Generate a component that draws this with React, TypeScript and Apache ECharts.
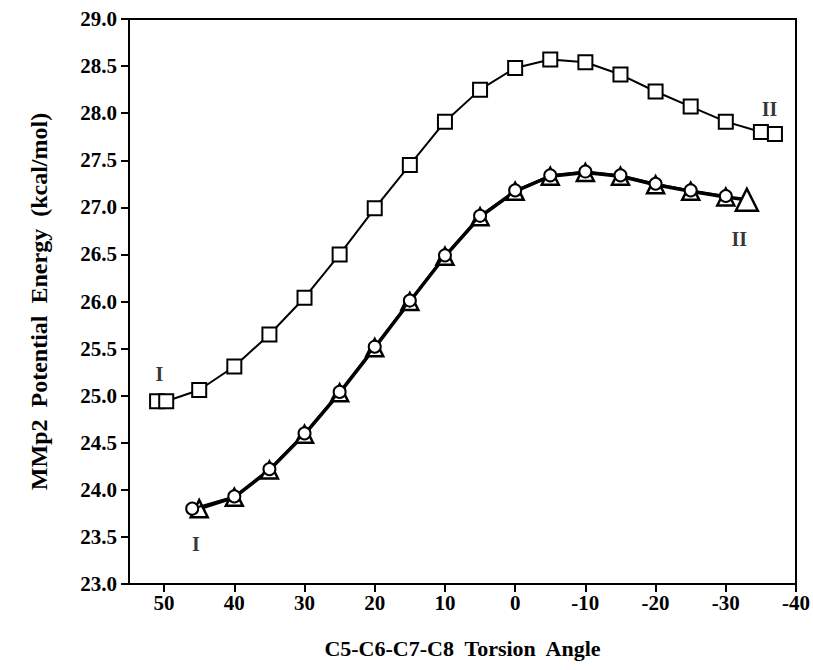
import React, { useEffect, useRef } from "react";
import * as echarts from "echarts";

// Torsion angles (deg) and MMP2 energies (kcal/mol)
const squareX = [51, 49.7, 45, 40, 35, 30, 25, 20, 15, 10, 5, 0, -5, -10, -15, -20, -25, -30, -35, -37];
const squareY = [24.94, 24.94, 25.06, 25.31, 25.65, 26.04, 26.5, 26.99, 27.45, 27.91, 28.25, 28.48, 28.57, 28.54, 28.41, 28.23, 28.07, 27.91, 27.8, 27.78];

const triangleX = [45, 40, 35, 30, 25, 20, 15, 10, 5, 0, -5, -10, -15, -20, -25, -30, -33];
const triangleY = [23.8, 23.92, 24.21, 24.59, 25.03, 25.51, 26.0, 26.48, 26.9, 27.17, 27.33, 27.37, 27.33, 27.24, 27.17, 27.11, 27.08];

const circleX = [46, 40, 35, 30, 25, 20, 15, 10, 5, 0, -5, -10, -15, -20, -25, -30];
const circleY = [23.8, 23.93, 24.22, 24.6, 25.04, 25.52, 26.01, 26.49, 26.91, 27.18, 27.34, 27.38, 27.34, 27.25, 27.18, 27.12];

const xTicks = [50, 40, 30, 20, 10, 0, -10, -20, -30, -40];

const labelText = ["I", "II", "I", "II"];
const labelX = [50.6, -36.3, 45.4, -32];
const labelY = [25.22, 28.04, 23.42, 26.66];

const FONT = "'Liberation Serif', 'Times New Roman', serif";

export default function App() {
  const ref = useRef<HTMLDivElement>(null);
  useEffect(() => {
    if (!ref.current) return;
    const chart = echarts.init(ref.current, undefined, { renderer: "svg" });
    const pairs = (xs: number[], ys: number[]) => xs.map((x, i) => [x, ys[i]]);
    const triData = pairs(triangleX, triangleY).map((p, i) =>
      i === triangleX.length - 1 ? { value: p, symbolSize: 22 } : { value: p }
    );
    chart.setOption({
      animation: false,
      backgroundColor: "#ffffff",
      grid: {
        left: 129,
        right: 15,
        top: 19,
        bottom: 86,
        show: true,
        borderColor: "#000",
        borderWidth: 2,
        backgroundColor: "transparent",
      },
      xAxis: {
        type: "value",
        min: -40,
        max: 55,
        inverse: true,
        name: "C5-C6-C7-C8  Torsion  Angle",
        nameLocation: "middle",
        nameGap: 53,
        nameTextStyle: { fontFamily: FONT, fontWeight: "bold", fontSize: 22, color: "#000" },
        axisLine: { onZero: false, lineStyle: { color: "#000", width: 2 } },
        axisTick: { customValues: xTicks, length: 8, inside: false, lineStyle: { color: "#000", width: 2 } },
        axisLabel: {
          customValues: xTicks,
          margin: 8,
          fontFamily: FONT,
          fontWeight: "bold",
          fontSize: 21,
          color: "#000",
        },
        splitLine: { show: false },
      },
      yAxis: {
        type: "value",
        min: 23,
        max: 29,
        interval: 0.5,
        name: "MMp2  Potential  Energy  (kcal/mol)",
        nameLocation: "middle",
        nameGap: 78,
        nameTextStyle: { fontFamily: FONT, fontWeight: "bold", fontSize: 24, color: "#000" },
        axisLine: { onZero: false, lineStyle: { color: "#000", width: 2 } },
        axisTick: { length: 8, lineStyle: { color: "#000", width: 2 } },
        axisLabel: {
          margin: 12,
          fontFamily: FONT,
          fontWeight: "bold",
          fontSize: 21,
          color: "#000",
          formatter: (v: number) => v.toFixed(1),
        },
        splitLine: { show: false },
      },
      series: [
        {
          type: "line",
          data: pairs(squareX, squareY),
          symbol: "rect",
          symbolSize: 14,
          showAllSymbol: true,
          lineStyle: { color: "#000", width: 2 },
          itemStyle: { color: "#fff", borderColor: "#000", borderWidth: 2 },
          z: 3,
        },
        {
          type: "line",
          data: triData,
          symbol: "triangle",
          symbolSize: 17,
          showAllSymbol: true,
          lineStyle: { color: "#000", width: 3.5 },
          itemStyle: { color: "#fff", borderColor: "#000", borderWidth: 2.5 },
          z: 3,
        },
        {
          type: "line",
          data: pairs(circleX, circleY),
          symbol: "circle",
          symbolSize: 12,
          showAllSymbol: true,
          lineStyle: { color: "#000", width: 2 },
          itemStyle: { color: "#fff", borderColor: "#000", borderWidth: 2 },
          z: 4,
        },
        {
          type: "scatter",
          data: pairs(labelX, labelY).map((p, i) => ({ value: p, name: labelText[i] })),
          symbolSize: 1,
          itemStyle: { color: "rgba(0,0,0,0)" },
          silent: true,
          label: {
            show: true,
            position: [0, 0],
            align: "center",
            verticalAlign: "middle",
            formatter: (p: any) => p.name,
            fontFamily: FONT,
            fontWeight: "bold",
            fontSize: 20,
            color: "#000000",
          },
          z: 5,
        },
      ],
    });
    return () => chart.dispose();
  }, []);
  return (
    <div
      ref={ref}
      style={{ position: "absolute", left: 0, top: 0, width: 813, height: 670, background: "#fff" }}
    />
  );
}
